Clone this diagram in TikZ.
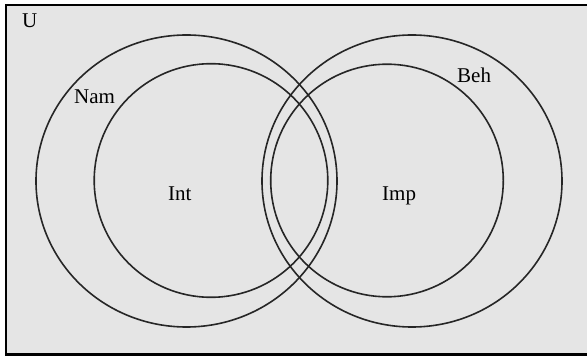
\documentclass[tikz,border=0pt]{standalone}
\usepackage{fontspec}
\setmainfont{Liberation Serif}
\usepackage{tikz}

\begin{document}
\begin{tikzpicture}[
	x=1pt,y=-1pt,
	set/.style={draw,line width=1.6pt,black!85},
	lbl/.style={inner sep=0pt,anchor=base west,font=\fontsize{21}{24}\selectfont}
	]
		\useasboundingbox (0,0) rectangle (587,358);
		\draw[fill=gray!20!white,line width=2.2pt] (6,5) rectangle (592,354.5);
		\draw[line width=1.2pt] (6.8,5) -- (6.8,354.5);
		
		\coordinate (nam) at (186.5,181);
		\coordinate (int) at (211,180.5);
		\coordinate (beh) at (412,181);
		\coordinate (imp) at (387,180.5);
		\draw[set] (nam) ellipse [x radius=150.5,y radius=146];
		\draw[set] (int) circle (116.8);
		\draw[set] (beh) ellipse [x radius=150,y radius=146];
		\draw[set] (imp) circle (116.3);
		
		\path (22,28) node[lbl] (u) {U};
		\path (74,104) node[lbl] (namlabel) {Nam};
		\path (457,83) node[lbl] (behlabel) {Beh};
		\path (168,201) node[lbl] (intlabel) {Int};
		\path (382,201) node[lbl] (implabel) {Imp};
		
	\end{tikzpicture}
\end{document}
